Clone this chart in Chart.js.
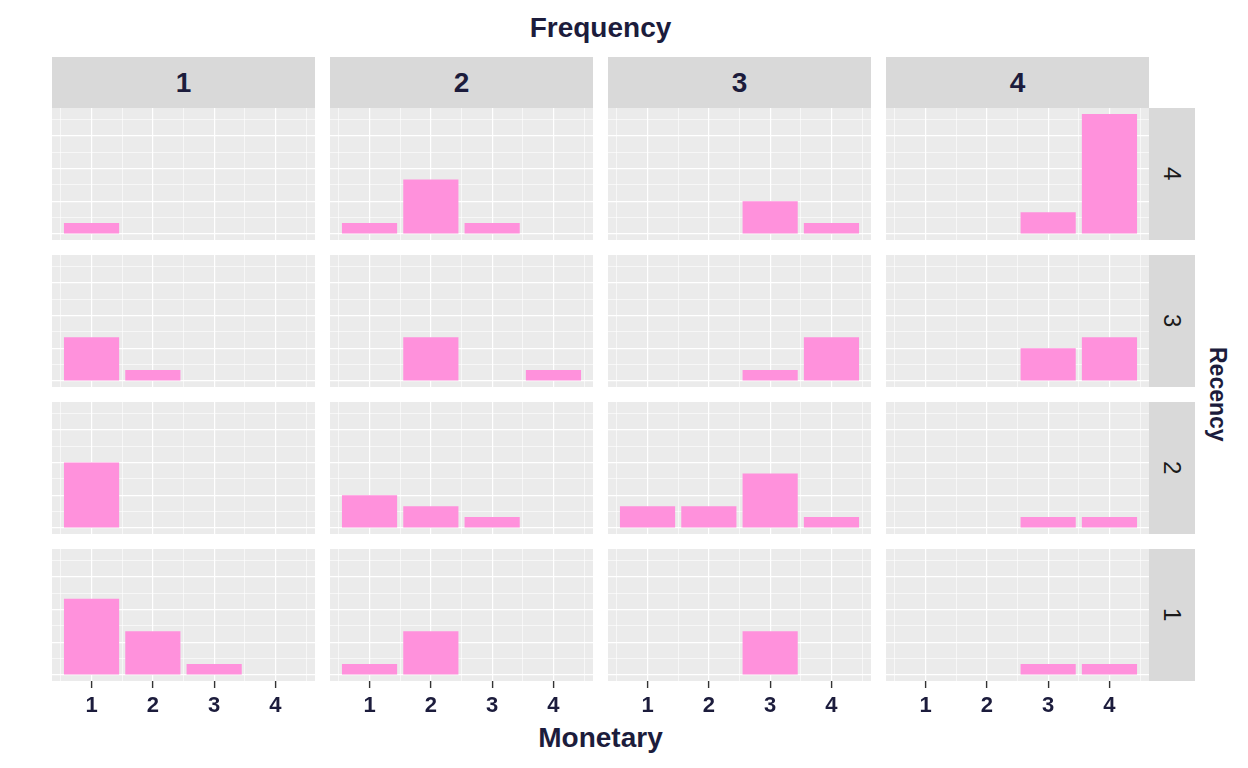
<!DOCTYPE html>
<html>
<head>
<meta charset="utf-8">
<script src="https://cdn.jsdelivr.net/npm/chart.js@4.4.1/dist/chart.umd.min.js"></script>
<style>
  body { margin: 0; background: #fff; font-family: "Liberation Sans", Arial, sans-serif; color: #1c1c3c; }
  #wrap { position: relative; width: 1248px; height: 768px; overflow: hidden; }
  .panel, .strip-top, .strip-right, .title { position: absolute; }
  .strip-top { background: #d9d9d9; display: flex; align-items: center; justify-content: center;
    font-weight: bold; font-size: 28px; }
  .strip-right { background: #d9d9d9; display: flex; align-items: center; justify-content: center;
    writing-mode: vertical-rl; font-size: 24px; color: #1a1a1a; }
  .title { font-weight: bold; font-size: 28px; text-align: center; white-space: nowrap; }
  .title.vert { writing-mode: vertical-rl; font-size: 23px; }
</style>
</head>
<body>
<div id="wrap"></div>
<script>
var frequencyLabels = ['1', '2', '3', '4'];
var recencyLabels = ['4', '3', '2', '1'];   // facet rows, top to bottom
var monetaryValues = [1, 2, 3, 4];

// counts for Monetary 1..4 in each Frequency panel, one array per Recency row
var recency4 = [[1, 0, 0, 0], [1, 5, 1, 0], [0, 0, 3, 1], [0, 0, 2, 11]];
var recency3 = [[4, 1, 0, 0], [0, 4, 0, 1], [0, 0, 1, 4], [0, 0, 3, 4]];
var recency2 = [[6, 0, 0, 0], [3, 2, 1, 0], [2, 2, 5, 1], [0, 0, 1, 1]];
var recency1 = [[7, 4, 1, 0], [1, 4, 0, 0], [0, 0, 4, 0], [0, 0, 1, 1]];
var rows = [recency4, recency3, recency2, recency1];

var yMajor = [0, 3, 6, 9];
var yMinor = [1.5, 4.5, 7.5, 10.5];
var xMinor = [0.5, 1.5, 2.5, 3.5, 4.5];

var textColor = '#1c1c3c';
var fontFamily = '"Liberation Sans", Arial, sans-serif';

// shared scale ranges (ggplot style 5% expansion)
var maxCount = Math.max.apply(null, rows.flat(2));
var yMin = -0.05 * maxCount, yMax = maxCount * 1.05;
var xLo = 1 - 0.45, xHi = 4 + 0.45;
var xMin = xLo - (xHi - xLo) * 0.05, xMax = xHi + (xHi - xLo) * 0.05;

var left0 = 52, colStep = 278, top0 = 108, rowStep = 147, pw = 263, ph = 132, axisH = 38;
var wrap = document.getElementById('wrap');

function addDiv(cls, text, x, y, w, h) {
    var d = document.createElement('div');
    d.className = cls;
    d.textContent = text;
    d.style.left = x + 'px'; d.style.top = y + 'px';
    if (w) d.style.width = w + 'px';
    if (h) d.style.height = h + 'px';
    wrap.appendChild(d);
    return d;
}

// panel background
var panelBg = {
    id: 'panelBg',
    beforeDraw: function (chart) {
        var a = chart.chartArea, c = chart.ctx;
        c.save();
        c.fillStyle = '#ebebeb';
        c.fillRect(a.left, a.top, a.right - a.left, a.bottom - a.top);
        c.restore();
    }
};

frequencyLabels.forEach(function (f, c) {
    addDiv('strip-top', f, left0 + c * colStep, 57, pw, 51);
});
recencyLabels.forEach(function (r, i) {
    addDiv('strip-right', r, left0 + 3 * colStep + pw, top0 + i * rowStep, 46, ph);
});

rows.forEach(function (row, r) {
    var bottom = r === rows.length - 1;
    row.forEach(function (counts, c) {
        var cv = document.createElement('canvas');
        cv.className = 'panel';
        cv.width = pw;
        cv.height = ph + (bottom ? axisH : 0);
        cv.style.left = (left0 + c * colStep) + 'px';
        cv.style.top = (top0 + r * rowStep) + 'px';
        wrap.appendChild(cv);

        new Chart(cv.getContext('2d'), {
            type: 'bar',
            data: {
                datasets: [{
                    data: monetaryValues.map(function (m, i) { return { x: m, y: counts[i] }; }),
                    backgroundColor: '#ff91dc',
                    borderWidth: 0,
                    barPercentage: 0.9,
                    categoryPercentage: 1,
                    xAxisID: 'x',
                    yAxisID: 'y'
                }]
            },
            options: {
                responsive: false,
                animation: false,
                layout: { padding: 0 },
                plugins: { legend: { display: false }, tooltip: { enabled: false } },
                scales: {
                    x: {
                        type: 'linear', position: 'bottom', min: xMin, max: xMax, offset: false,
                        afterBuildTicks: function (s) { s.ticks = monetaryValues.map(function (v) { return { value: v }; }); },
                        afterFit: function (s) { s.height = bottom ? axisH : 0; },
                        ticks: {
                            display: bottom, autoSkip: false, maxRotation: 0, padding: 5,
                            color: textColor, font: { family: fontFamily, size: 22, weight: 'bold' }
                        },
                        grid: { offset: false, color: '#ffffff', lineWidth: 1.2, drawTicks: bottom, tickLength: 7,
                                tickColor: '#333333', tickWidth: 1.4 },
                        border: { display: false }
                    },
                    // minor vertical grid lines
                    x2: {
                        type: 'linear', position: 'bottom', min: xMin, max: xMax, offset: false,
                        afterBuildTicks: function (s) { s.ticks = xMinor.map(function (v) { return { value: v }; }); },
                        afterFit: function (s) { s.height = 0; },
                        ticks: { display: false },
                        grid: { offset: false, color: '#ffffff', lineWidth: 0.6, drawTicks: false },
                        border: { display: false }
                    },
                    y: {
                        min: yMin, max: yMax,
                        afterBuildTicks: function (s) {
                            s.ticks = yMajor.concat(yMinor).sort(function (a, b) { return a - b; })
                                .map(function (v) { return { value: v }; });
                        },
                        afterFit: function (s) { s.width = 0; },
                        ticks: { display: false },
                        grid: {
                            color: '#ffffff', drawTicks: false,
                            lineWidth: function (ctx) { return ctx.tick && yMajor.indexOf(ctx.tick.value) >= 0 ? 1.2 : 0.6; }
                        },
                        border: { display: false }
                    }
                }
            },
            plugins: [panelBg]
        });
    });
});

addDiv('title', 'Frequency', 400, 12, 401);
addDiv('title', 'Monetary', 400, 722, 401);
var rt = addDiv('title vert', 'Recency', 1204, 350);
rt.style.top = (394 - rt.offsetHeight / 2) + 'px';
</script>
</body>
</html>
